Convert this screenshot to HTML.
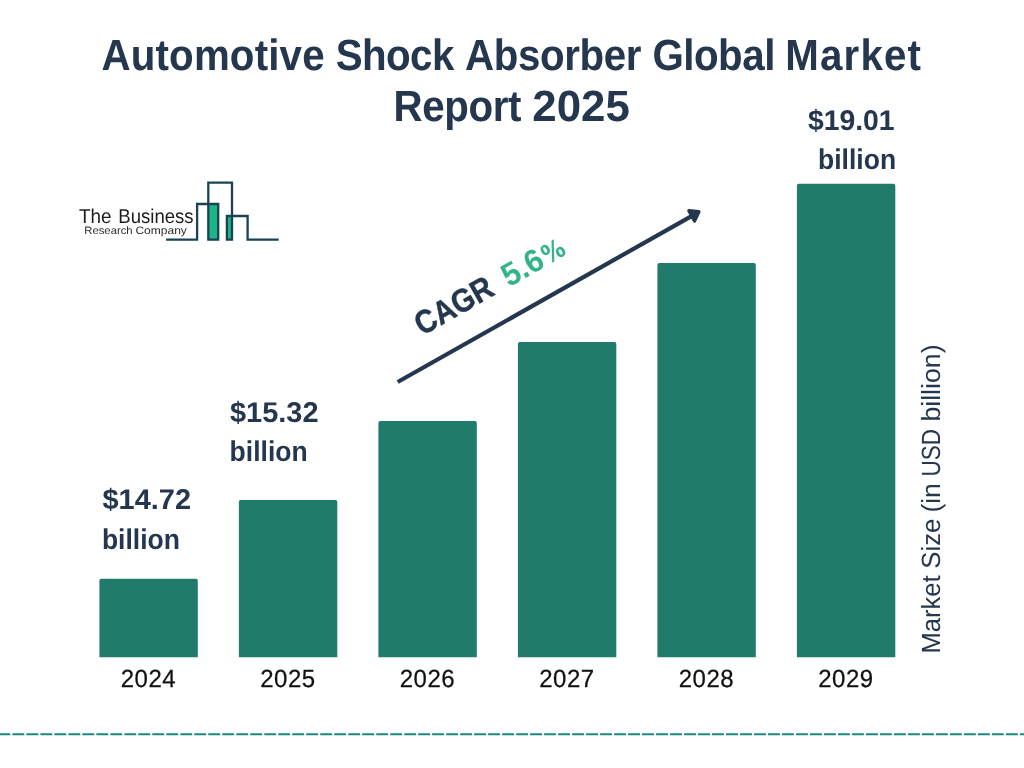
<!DOCTYPE html>
<html lang="en">
<head>
<meta charset="utf-8">
<title>Automotive Shock Absorber Global Market Report 2025</title>
<style>
  html, body { margin: 0; padding: 0; background: #ffffff; }
  body { width: 1024px; height: 768px; overflow: hidden; }
  svg { display: block; }
  text { font-family: "Liberation Sans", Arial, Helvetica, sans-serif; text-rendering: geometricPrecision; }
  .title { font-weight: 700; fill: #24374e; }
  .val { font-weight: 700; font-size: 27.4px; fill: #24374e; }
  .year { font-size: 24px; fill: #111111; letter-spacing: 0.5px; stroke: #111111; stroke-width: 0.25px; }
  .axis { font-size: 25.2px; fill: #24374e; }
  .bar { fill: #207b6b; }
</style>
</head>
<body>
<svg width="1024" height="768" viewBox="0 0 1024 768">
  <rect x="0" y="0" width="1024" height="768" fill="#ffffff"/>

  <!-- Title -->
  <g class="title" font-size="43.75">
    <text transform="translate(101.5,69.95) scale(0.9211,1)" style="letter-spacing:0.17px">Automotive</text>
    <text transform="translate(335.8,69.95) scale(0.9211,1)" style="letter-spacing:-0.65px">Shock</text>
    <text transform="translate(465.0,69.95) scale(0.9211,1)" style="letter-spacing:-0.42px">Absorber</text>
    <text transform="translate(652.4,69.95) scale(0.9211,1)" style="letter-spacing:-0.52px">Global</text>
    <text transform="translate(785.3,69.95) scale(0.9211,1)" style="letter-spacing:1.26px">Market</text>
    <text transform="translate(393.4,120.7) scale(0.9211,1)" style="letter-spacing:-0.39px">Report</text>
    <text transform="translate(532.3,120.7) scale(1.0022,1)" style="letter-spacing:0.00px">2025</text>
  </g>

  <!-- Logo -->
  <g id="logo">
    <text font-size="19.9" fill="#1c1c1c"><tspan x="78.9" y="222.6" textLength="32.6" lengthAdjust="spacingAndGlyphs">The</tspan> <tspan x="118.3" y="222.6" textLength="75.3" lengthAdjust="spacingAndGlyphs">Business</tspan></text>
    <text font-size="10.8" fill="#2a2a2a"><tspan x="84.3" y="233.8" textLength="48.3" lengthAdjust="spacingAndGlyphs">Research</tspan> <tspan x="135.4" y="233.8" textLength="51.5" lengthAdjust="spacingAndGlyphs">Company</tspan></text>
    <rect x="209" y="205" width="8.6" height="34" fill="#1bb686"/>
    <rect x="227.8" y="217" width="3.4" height="22" fill="#1bb686"/>
    <path d="M166.1 239.7 H197.1 V204 H218.2 V239.7 H208.3 V182.7 H232 V239.7 H226.9 V216 H247.6 V239.7 H278.7"
          fill="none" stroke="#184355" stroke-width="2.3" stroke-linejoin="miter" stroke-linecap="butt"/>
  </g>

  <!-- Bars -->
  <path class="bar" d="M99.4 657.2V580.7Q99.4 578.8 101.3 578.8H195.9Q197.8 578.8 197.8 580.7V657.2Z"/>
  <path class="bar" d="M238.9 657.2V501.9Q238.9 500.0 240.8 500.0H335.4Q337.3 500.0 337.3 501.9V657.2Z"/>
  <path class="bar" d="M378.4 657.2V422.9Q378.4 421.0 380.3 421.0H474.9Q476.8 421.0 476.8 422.9V657.2Z"/>
  <path class="bar" d="M517.9 657.2V343.9Q517.9 342.0 519.8 342.0H614.4Q616.3 342.0 616.3 343.9V657.2Z"/>
  <path class="bar" d="M657.4 657.2V264.9Q657.4 263.0 659.3 263.0H753.9Q755.8 263.0 755.8 264.9V657.2Z"/>
  <path class="bar" d="M796.9 657.2V185.7Q796.9 183.8 798.8 183.8H893.4Q895.3 183.8 895.3 185.7V657.2Z"/>

  <!-- Year labels -->
  <text class="year" transform="translate(148.45,687) scale(1,1.035)" text-anchor="middle">2024</text>
  <text class="year" transform="translate(287.95,687) scale(1,1.035)" text-anchor="middle">2025</text>
  <text class="year" transform="translate(427.45,687) scale(1,1.035)" text-anchor="middle">2026</text>
  <text class="year" transform="translate(566.95,687) scale(1,1.035)" text-anchor="middle">2027</text>
  <text class="year" transform="translate(706.45,687) scale(1,1.035)" text-anchor="middle">2028</text>
  <text class="year" transform="translate(845.95,687) scale(1,1.035)" text-anchor="middle">2029</text>

  <!-- Value labels -->
  <g class="val">
    <text transform="translate(102.5,509) scale(1.057,1.04)">$14.72</text>
    <text transform="translate(101.9,548.7) scale(0.968,1.04)">billion</text>
    <text transform="translate(230.0,421.6) scale(1.057,1.04)">$15.32</text>
    <text transform="translate(229.6,460.6) scale(0.968,1.04)">billion</text>
    <text transform="translate(894.6,129.9) scale(1.035,1.04)" text-anchor="end">$19.01</text>
    <text transform="translate(896.1,168.7) scale(0.968,1.04)" text-anchor="end">billion</text>
  </g>

  <!-- CAGR arrow -->
  <g id="cagr">
    <line x1="397.7" y1="382.0" x2="692" y2="215.85" stroke="#24374e" stroke-width="4.2"/>
    <polygon points="698.9,211.7 688.9,210.6 694.5,220.9" fill="#24374e" stroke="#24374e" stroke-width="3.4" stroke-linejoin="round"/>
    <text transform="translate(422.3,336.1) rotate(-29.5) scale(0.93,1.05)" font-weight="700" font-size="31" fill="#24374e" stroke="#24374e" stroke-width="0.4">CAGR</text>
    <text transform="translate(509.0,287.5) rotate(-29.5) scale(1,1.04)" font-weight="700" font-size="31" fill="#32b487">5.6</text>
    <text transform="translate(547.8,264.8) rotate(-29.5) scale(0.92,1.06)" style="font-family:'DejaVu Sans','Liberation Sans',sans-serif" font-weight="700" font-size="24.5" fill="#32b487">%</text>
  </g>

  <!-- Axis label -->
  <g class="axis">
    <text transform="translate(940.3,653.5) rotate(-90) scale(1.013,1.045)">Market</text>
    <text transform="translate(940.3,568.7) rotate(-90) scale(1.02,1.045)">Size</text>
    <text transform="translate(940.3,512.6) rotate(-90) scale(1.05,1.045)">(in</text>
    <text transform="translate(940.3,476.6) rotate(-90) scale(0.894,1.045)">USD</text>
    <text transform="translate(940.3,421.6) rotate(-90) scale(1.06,1.045)">billion)</text>
  </g>

  <!-- Bottom dashed rule -->
  <line x1="-1.6" y1="734.25" x2="1026" y2="734.25" stroke="#188a81" stroke-width="2" stroke-dasharray="11.9 2.093"/>
</svg>
</body>
</html>
